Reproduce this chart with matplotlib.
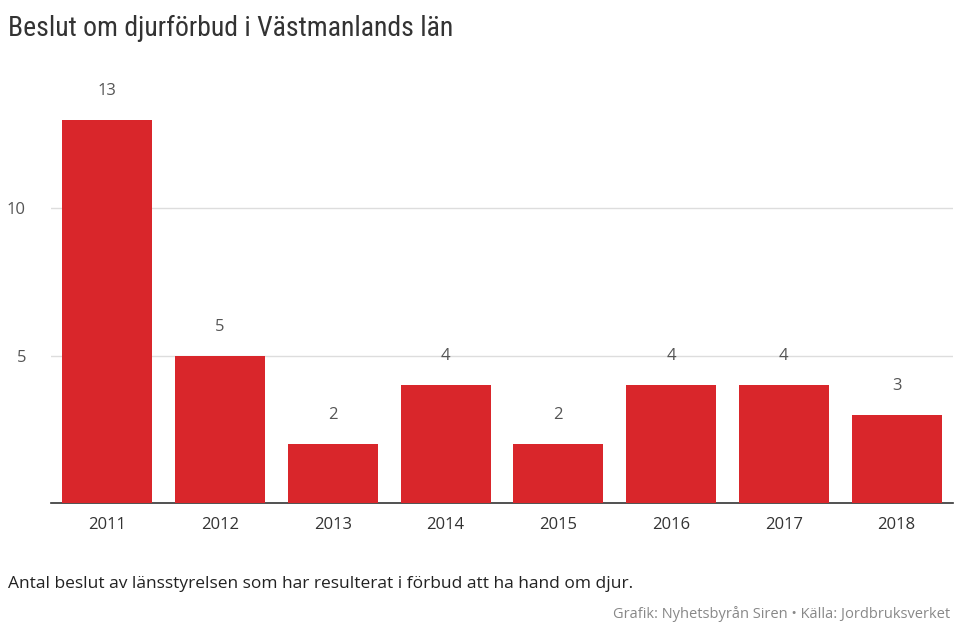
import matplotlib
matplotlib.use("Agg")
import matplotlib.pyplot as plt
from matplotlib import font_manager

years = ["2011", "2012", "2013", "2014", "2015", "2016", "2017", "2018"]
values = [13, 5, 2, 4, 2, 4, 4, 3]
yticks = [5, 10]

names = {f.name for f in font_manager.fontManager.ttflist}
title_font = "DejaVu Sans"
for cand in ["Roboto Condensed", "Liberation Sans Narrow", "Open Sans Condensed", "DejaVu Sans"]:
    if cand in names:
        title_font = cand
        break
txt_font = "Open Sans" if "Open Sans" in names else "DejaVu Sans"

fig = plt.figure(figsize=(9.6, 6.4), dpi=100)
ax = fig.add_axes([51 / 960, 0.214, 902 / 960, 0.599])
red = "#d9262b"
x = range(len(years))
ax.bar(x, values, width=0.8, color=red, zorder=3)
for xi, v in zip(x, values):
    ax.text(xi, v + 0.7, str(v), ha="center", va="bottom", fontsize=12,
            color="#555555", family=txt_font)
ax.set_ylim(0, 13)
ax.set_xlim(-0.5, len(years) - 0.5)
ax.set_yticks(yticks)
ax.set_yticklabels([str(t) for t in yticks], fontsize=12, color="#555555", family=txt_font)
ax.set_xticks(list(x))
ax.set_xticklabels(years, fontsize=12, color="#333333", family=txt_font)
ax.tick_params(axis="both", length=0, pad=10)
ax.tick_params(axis="y", pad=18)
ax.grid(axis="y", color="#dddddd", linewidth=1, zorder=0)
for s in ["top", "right", "left"]:
    ax.spines[s].set_visible(False)
ax.spines["bottom"].set_color("#333333")
ax.spines["bottom"].set_linewidth(1.2)

fig.text(0.008, 0.955, "Beslut om djurförbud i Västmanlands län", fontsize=20,
         family=title_font, color="#333333", va="center")
fig.text(0.008, 0.088, "Antal beslut av länsstyrelsen som har resulterat i förbud att ha hand om djur.",
         fontsize=12.5, family=txt_font, color="#222222", va="center")
fig.text(0.99, 0.04, "Grafik: Nyhetsbyrån Siren • Källa: Jordbruksverket",
         fontsize=10.5, family=txt_font, color="#888888", va="center", ha="right")
fig.savefig("out.png", dpi=100)
